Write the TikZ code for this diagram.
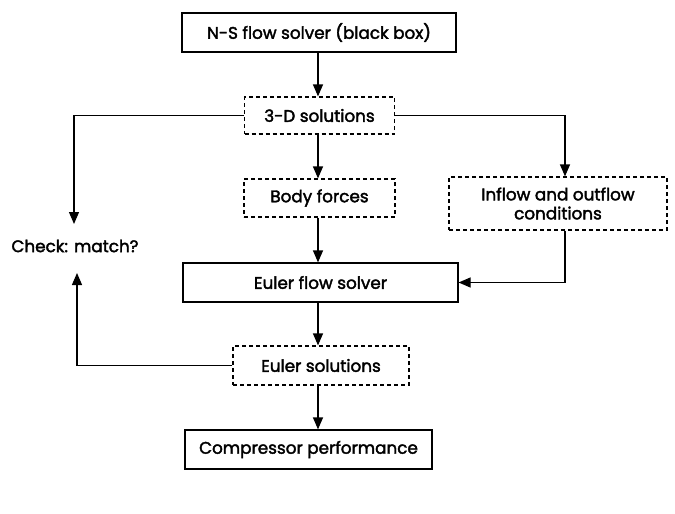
\documentclass[tikz,border=0pt]{standalone}
\usepackage{fontspec}
\setmainfont{Poppins}[BoldFont=Poppins,BoldFeatures={FakeBold=2.2}]
\usetikzlibrary{arrows.meta}
\begin{document}
\begin{tikzpicture}[x=1pt,y=-1pt,
  txt/.style={font=\fontsize{16.8}{19}\selectfont\bfseries},
  solidbox/.style={txt,draw,line width=1.2pt,minimum height=39pt,inner sep=0pt},
  dashbox/.style={txt,draw,dash pattern=on 4pt off 3pt,line width=1.2pt,inner sep=0pt,align=center},
  conn/.style={line width=1.2pt,-{Triangle[length=12pt,width=10pt]}}]
\useasboundingbox (0,0) rectangle (675,514);
\node[solidbox,minimum width=274pt] (ns) at (319,32.5) {N-S flow solver (black box)};
\node[dashbox,minimum width=150pt,minimum height=37pt] (sol3d) at (319.5,115.5) {3-D solutions};
\node[dashbox,minimum width=151pt,minimum height=38pt] (bf) at (319.5,198) {Body forces};
\node[dashbox,minimum width=218pt,minimum height=53pt] (inout) at (558,203.5) {Inflow and outflow\\conditions};
\node[solidbox,minimum width=275pt] (euler) at (320.5,282.5) {Euler flow solver};
\node[dashbox,minimum width=176pt,minimum height=39pt] (esol) at (321,365.5) {Euler solutions};
\node[solidbox,minimum width=247pt] (comp) at (308.5,449.5) {Compressor performance};
\node[txt] (check) at (75,246) {Check: match?};
\coordinate (ctop) at (74,224);
\coordinate (cbot) at (77,273);
\draw[conn] (ns.south -| 318,0) -- (sol3d.north -| 318,0);
\draw[conn] (sol3d.south -| 318,0) -- (bf.north -| 318,0);
\draw[conn] (bf.south -| 318,0) -- (euler.north -| 318,0);
\draw[conn] (euler.south -| 318,0) -- (esol.north -| 318,0);
\draw[conn] (esol.south -| 318,0) -- (comp.north -| 318,0);
\draw[conn] (sol3d.west) -| (ctop);
\draw[conn] (esol.west) -| (cbot);
\draw[conn] (sol3d.east) -| (inout.north -| 565,0);
\draw[conn] (inout.south -| 565,0) |- (euler.east);
\end{tikzpicture}
\end{document}
